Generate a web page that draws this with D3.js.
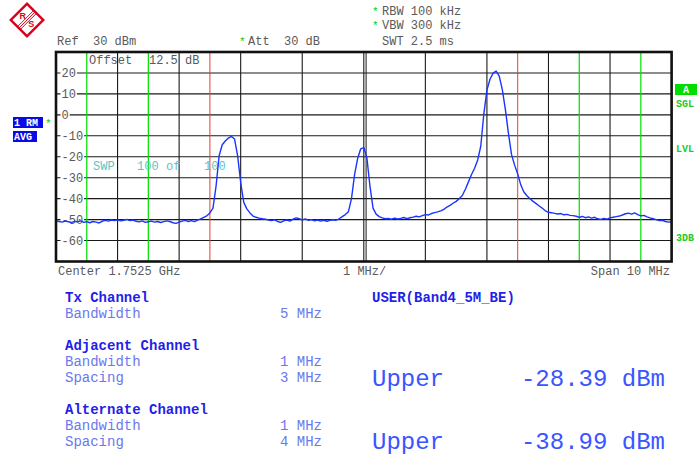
<!DOCTYPE html>
<html><head><meta charset="utf-8">
<script src="https://cdn.jsdelivr.net/npm/d3@7/dist/d3.min.js"></script>
<style>body{margin:0;background:#fff}svg{display:block}text{white-space:pre}</style>
</head><body><svg id="c" width="697" height="456"></svg>
<script>
// ---------- data ----------
const yTicks = [20, 10, 0, -10, -20, -30, -40, -50, -60];
const refLevel = 30, bottomLevel = -70;
const spanStartMHz = -5, spanEndMHz = 5;
const sweepStartMHz = -5, sweepStepMHz = 0.05;
const traceDbm = [
 -50.6,-50.9,-51.2,-50.7,-51.0,-51.4,-50.8,-51.1,-50.6,-51.3,
 -51.0,-51.5,-50.9,-51.2,-51.6,-50.8,-50.4,-50.7,-50.2,-50.5,
 -50.1,-50.6,-50.3,-49.9,-50.5,-50.2,-50.8,-51.1,-50.6,-51.3,
 -51.0,-50.7,-51.2,-50.9,-51.4,-51.0,-50.6,-50.9,-51.5,-51.8,
 -51.2,-50.7,-50.4,-50.9,-50.5,-51.0,-50.3,-49.6,-48.9,-48.2,
 -46.8,-44.5,-34.0,-19.5,-14.3,-12.5,-11.1,-10.3,-11.5,-19.5,
 -32.3,-41.8,-44.9,-46.8,-48.3,-48.9,-49.3,-49.6,-49.8,-50.2,
 -50.5,-50.1,-50.9,-51.3,-50.6,-50.2,-50.7,-49.8,-49.2,-49.6,
 -50.1,-49.7,-50.4,-50.0,-50.6,-50.2,-50.7,-50.3,-50.8,-50.4,
 -50.1,-50.3,-49.6,-48.6,-47.6,-46.2,-40.0,-28.5,-20.8,-16.2,
 -15.6,-20.5,-34.0,-44.5,-47.4,-48.6,-49.2,-49.6,-49.5,-49.8,
 -49.3,-49.7,-49.4,-49.0,-49.5,-49.1,-48.8,-48.4,-48.7,-48.1,
 -47.6,-47.8,-47.1,-46.7,-46.3,-45.8,-45.1,-44.0,-43.2,-42.2,
 -41.3,-40.0,-38.5,-35.5,-32.0,-28.5,-25.5,-21.5,-15.0,0.5,
 11.8,17.0,19.9,20.9,18.5,12.0,2.5,-9.0,-19.0,-24.0,
 -28.2,-33.4,-36.8,-38.6,-40.0,-41.3,-42.4,-43.5,-44.6,-45.8,
 -46.5,-46.7,-47.0,-47.3,-47.1,-47.7,-47.5,-48.0,-48.1,-48.4,
 -48.9,-48.5,-49.1,-48.7,-49.3,-48.9,-49.6,-49.9,-49.4,-49.8,
 -49.2,-48.9,-48.6,-48.3,-47.8,-47.2,-46.9,-47.4,-46.8,-47.6,
 -48.2,-48.0,-48.7,-49.2,-49.6,-50.0,-50.5,-50.3,-50.9,-51.2,
 -51.0
];
const txLimitsMHz = [-2.5, 2.5];
const adjAltLimitsMHz = [-4.5, -3.5, 3.5, 4.5];
const leftTable = [
  {text: "Tx Channel", bold: true, value: ""},
  {text: "Bandwidth", bold: false, value: "5 MHz"},
  {text: "Adjacent Channel", bold: true, value: ""},
  {text: "Bandwidth", bold: false, value: "1 MHz"},
  {text: "Spacing", bold: false, value: "3 MHz"},
  {text: "Alternate Channel", bold: true, value: ""},
  {text: "Bandwidth", bold: false, value: "1 MHz"},
  {text: "Spacing", bold: false, value: "4 MHz"}
];
const leftTableY = [302, 318, 350, 366, 382, 414, 430, 446];
const resultLabels = ["Upper", "Upper"];
const resultValues = ["-28.39 dBm", "-38.99 dBm"];
const resultY = [386, 449];

// ---------- drawing ----------
const svg = d3.select("#c");
const MONO = "'Liberation Mono','DejaVu Sans Mono',monospace";
const X0 = 56, X1 = 671.6, Y0 = 52, Y1 = 261.5;
const x = d3.scaleLinear().domain([spanStartMHz, spanEndMHz]).range([X0, X1]);
const y = d3.scaleLinear().domain([refLevel, bottomLevel]).range([Y0, Y1]);

function txt(xp, yp, s, opt = {}) {
  return svg.append("text").attr("x", xp).attr("y", yp).text(s)
    .attr("xml:space", "preserve")
    .attr("font-family", MONO).attr("font-size", opt.size || 12)
    .attr("font-weight", opt.bold ? "bold" : "normal")
    .attr("fill", opt.fill || "#5a5a5a")
    .attr("text-anchor", opt.anchor || "start");
}

// logo
const logo = svg.append("g").attr("transform", "translate(27,20) rotate(45)");
logo.append("rect").attr("x", -11.5).attr("y", -11.5).attr("width", 23).attr("height", 23)
  .attr("fill", "#fff").attr("stroke", "#d8001a").attr("stroke-width", 2.4);
[-2, 0, 2].forEach(d => logo.append("line").attr("x1", d).attr("x2", d).attr("y1", -11).attr("y2", 11)
  .attr("stroke", "#d8001a").attr("stroke-width", 0.9));
logo.append("text").attr("x", -6).attr("y", 3).attr("text-anchor", "middle")
  .attr("transform", "rotate(-45,-6,0)").attr("font-family", "Liberation Sans,Arial,sans-serif")
  .attr("font-size", 9).attr("font-weight", "bold").attr("fill", "#d8001a").text("R");
logo.append("text").attr("x", 6).attr("y", 3).attr("text-anchor", "middle")
  .attr("transform", "rotate(-45,6,0)").attr("font-family", "Liberation Sans,Arial,sans-serif")
  .attr("font-size", 9).attr("font-weight", "bold").attr("fill", "#d8001a").text("S");

// header
txt(57, 45, "Ref  30 dBm");
txt(239, 45, "*", {fill: "#00cc00", size: 11});
txt(248, 45, "Att  30 dB");
txt(372, 15, "*", {fill: "#00cc00", size: 11});
txt(382, 15, "RBW 100 kHz");
txt(372, 29, "*", {fill: "#00cc00", size: 11});
txt(382, 29, "VBW 300 kHz");
txt(382, 45, "SWT 2.5 ms");

// grid
const xTicks = x.ticks(10);
svg.append("g").selectAll("line").data(xTicks).join("line")
  .attr("x1", d => x(d)).attr("x2", d => x(d)).attr("y1", Y0).attr("y2", Y1)
  .attr("stroke", "#1a1a1a").attr("stroke-width", 1.1);
svg.append("line").attr("x1", x(0) + 2.3).attr("x2", x(0) + 2.3).attr("y1", Y0).attr("y2", Y1)
  .attr("stroke", "#1a1a1a").attr("stroke-width", 1);
const hTicks = yTicks.concat([refLevel, bottomLevel]);
svg.append("g").selectAll("line").data(hTicks).join("line")
  .attr("x1", X0).attr("x2", X1).attr("y1", d => y(d)).attr("y2", d => y(d))
  .attr("stroke", "#1a1a1a").attr("stroke-width", 1.1);

// channel marker lines
svg.append("g").selectAll("line").data(txLimitsMHz).join("line")
  .attr("x1", d => x(d)).attr("x2", d => x(d)).attr("y1", Y0).attr("y2", Y1)
  .attr("stroke", "#f03a2a").attr("stroke-width", 1);
svg.append("g").selectAll("line").data(adjAltLimitsMHz).join("line")
  .attr("x1", d => x(d)).attr("x2", d => x(d)).attr("y1", Y0).attr("y2", Y1)
  .attr("stroke", "#00dd00").attr("stroke-width", 1.2);

// y labels with white background
const yl = svg.append("g");
yTicks.forEach(v => {
  const t = yl.append("text").attr("x", 61.5).attr("y", y(v) + 4).text(String(v))
    .attr("font-family", MONO).attr("font-size", 12).attr("fill", "#5a5a5a");
  const w = t.node().getComputedTextLength();
  yl.insert("rect", "text").attr("x", 60.5).attr("y", y(v) - 5).attr("width", w + 2).attr("height", 10).attr("fill", "#fff");
});

// in-plot text
txt(89, 64, "Offset");
txt(149, 64, "12.5 dB");
txt(93, 170, "SWP", {fill: "#5ec4c4"});
txt(137, 170, "100", {fill: "#5ec4c4"});
txt(166, 170, "of", {fill: "#5ec4c4"});
txt(204, 170, "100", {fill: "#5ec4c4"});

// trace
const line = d3.line().x((d, i) => x(sweepStartMHz + i * sweepStepMHz)).y(d => y(d));
svg.append("path").datum(traceDbm).attr("d", line).attr("fill", "none")
  .attr("stroke", "#1a35ff").attr("stroke-width", 1.4).attr("stroke-linejoin", "round");

// frame
svg.append("rect").attr("x", X0).attr("y", Y0).attr("width", X1 - X0).attr("height", Y1 - Y0)
  .attr("fill", "none").attr("stroke", "#111").attr("stroke-width", 2.6);

// side labels
svg.append("rect").attr("x", 13).attr("y", 117).attr("width", 30).attr("height", 11).attr("fill", "#0a0ae6");
txt(14, 126, "1 RM", {fill: "#fff", bold: true, size: 10});
txt(45, 127, "*", {fill: "#00cc00", size: 11});
svg.append("rect").attr("x", 13).attr("y", 131).attr("width", 24).attr("height", 11).attr("fill", "#0a0ae6");
txt(14, 140, "AVG", {fill: "#fff", bold: true, size: 10});
svg.append("rect").attr("x", 675).attr("y", 84).attr("width", 22).attr("height", 11).attr("fill", "#00dd00");
txt(686, 93, "A", {fill: "#fff", bold: true, size: 10, anchor: "middle"});
txt(676, 107, "SGL", {fill: "#22cc22", bold: true, size: 10});
txt(676, 152, "LVL", {fill: "#22cc22", bold: true, size: 10});
txt(676, 241, "3DB", {fill: "#22cc22", bold: true, size: 10});

// bottom axis labels
txt(58, 275, "Center 1.7525 GHz");
txt(343, 275, "1 MHz/");
txt(670, 275, "Span 10 MHz", {anchor: "end"});

// table
leftTable.forEach((r, i) => {
  txt(65, leftTableY[i], r.text, {size: 14, bold: r.bold, fill: r.bold ? "#1f1fe8" : "#6a78f0"});
  if (r.value) txt(322, leftTableY[i], r.value, {size: 14, fill: "#6a78f0", anchor: "end"});
});
txt(372, 302, "USER(Band4_5M_BE)", {size: 14, bold: true, fill: "#1f1fe8"});
resultLabels.forEach((s, i) => {
  txt(372, resultY[i], s, {size: 24, fill: "#3a55ff"});
  txt(665, resultY[i], resultValues[i], {size: 24, fill: "#3a55ff", anchor: "end"});
});
</script></body></html>
